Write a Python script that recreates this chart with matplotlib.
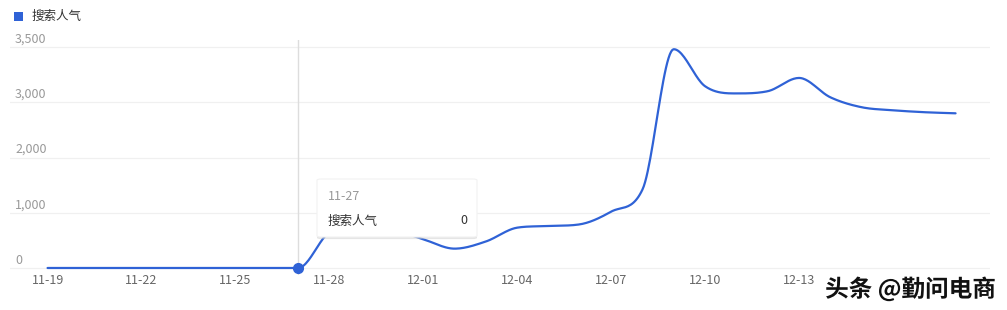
import numpy as np
import matplotlib
matplotlib.use("Agg")
import matplotlib.pyplot as plt
from matplotlib.patches import FancyBboxPatch, Rectangle
import matplotlib.patheffects as pe

plt.rcParams['font.family'] = ['Noto Sans CJK SC', 'DejaVu Sans']

# daily values, 11-19 .. 12-18
dates = ["11-19", "11-20", "11-21", "11-22", "11-23", "11-24", "11-25", "11-26", "11-27", "11-28",
         "11-29", "11-30", "12-01", "12-02", "12-03", "12-04", "12-05", "12-06", "12-07", "12-08",
         "12-09", "12-10", "12-11", "12-12", "12-13", "12-14", "12-15", "12-16", "12-17", "12-18"]
values = [0, 0, 0, 0, 0, 0, 0, 0, 0, 650,
          780, 700, 520, 350, 480, 730, 760, 790, 1020, 1420,
          3960, 3290, 3160, 3200, 3440, 3090, 2910, 2855, 2820, 2800]
series_name = "搜索人气"
ytick_vals = [0, 1000, 2000, 3000, 4000]
ytick_labels = ["0", "1,000", "2,000", "3,000", "3,500"]
hover_idx = 8

blue = "#2f62d6"


def smooth(x, y, n=24):
    # monotone cubic through the points (drawing only)
    x = np.asarray(x, float)
    y = np.asarray(y, float)
    d = np.diff(y) / np.diff(x)
    m = np.zeros_like(y)
    m[0], m[-1] = d[0], d[-1]
    for i in range(1, len(y) - 1):
        if d[i - 1] * d[i] > 0:
            m[i] = (d[i - 1] + d[i]) / 2
            lim = 3 * min(abs(d[i - 1]), abs(d[i]))
            if abs(m[i]) > lim:
                m[i] = np.sign(m[i]) * lim
    xs, ys = [], []
    t = np.linspace(0, 1, n, endpoint=False)
    for i in range(len(y) - 1):
        h = x[i + 1] - x[i]
        h00 = 2 * t**3 - 3 * t**2 + 1
        h10 = t**3 - 2 * t**2 + t
        h01 = -2 * t**3 + 3 * t**2
        h11 = t**3 - t**2
        xs.extend(x[i] + t * h)
        ys.extend(h00 * y[i] + h10 * h * m[i] + h01 * y[i + 1] + h11 * h * m[i + 1])
    xs.append(x[-1])
    ys.append(y[-1])
    return np.array(xs), np.array(ys)


W, H = 1007, 310
fig = plt.figure(figsize=(W / 100, H / 100), dpi=100)
ax = fig.add_axes([10 / W, 35 / H, 980 / W, 235 / H])

x = np.arange(len(dates))
ax.set_xlim(-1.2, 30.1)
ax.set_ylim(-127, 4127)

for v in ytick_vals:
    ax.axhline(v, color="#f0f0f0", lw=0.9, zorder=0)

# hover pointer line
ax.axvline(hover_idx, color="#dddddd", lw=1, zorder=1)

sx, sy = smooth(x, values)
ax.plot(sx, sy, color=blue, lw=1.6, zorder=3, solid_capstyle="round")
ax.plot(x[hover_idx], values[hover_idx], "o", ms=7, color=blue, zorder=4)

for s in ax.spines.values():
    s.set_visible(False)
ax.set_xticks([])
ax.set_yticks([])

# y labels sit above the grid lines, left aligned
for v, lab in zip(ytick_vals, ytick_labels):
    fig.text(15 / W, 1 - (268 - v * 55.25 / 1000 - 8) / H, lab, fontsize=9,
             color="#999999", ha="left", va="center")

# x labels every 3 days
for i in range(0, len(dates), 3):
    if i > 26:
        continue
    ax.text(i, -235, dates[i], fontsize=9, color="#666666", ha="center", va="center")

# tooltip
tip = FancyBboxPatch((317 / W, 1 - 237 / H), 160 / W, 58 / H,
                     boxstyle="round,pad=0,rounding_size=0.004", transform=fig.transFigure,
                     facecolor="white", edgecolor="#f2f2f2", lw=0.8, zorder=10,
                     path_effects=[pe.SimplePatchShadow(offset=(0, -1.5), shadow_rgbFace="#cccccc", alpha=0.5), pe.Normal()])
fig.add_artist(tip)
fig.text(328 / W, 1 - 197 / H, dates[hover_idx], fontsize=9, color="#999999", va="center", zorder=11)
fig.text(328 / W, 1 - 221 / H, series_name, fontsize=9, color="#333333", va="center", zorder=11)
fig.text(467 / W, 1 - 221 / H, str(values[hover_idx]), fontsize=9, color="#333333", ha="right", va="center", zorder=11)

# legend
fig.add_artist(Rectangle((14 / W, 1 - 21 / H), 9 / W, 9 / H, transform=fig.transFigure,
                         facecolor=blue, edgecolor="none"))
fig.text(32 / W, 1 - 16 / H, series_name, fontsize=9, color="#333333", va="center")

# watermark
fig.text(996 / W, 1 - 289 / H, "头条 @勤问电商", fontsize=17, color="#111111", ha="right", va="center",
         fontweight="bold",
         path_effects=[pe.withStroke(linewidth=2.5, foreground="white")], zorder=12)

fig.savefig("out.png", dpi=100)
